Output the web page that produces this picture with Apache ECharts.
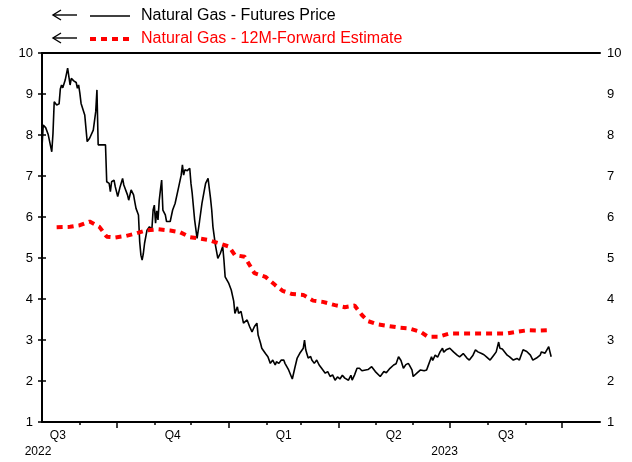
<!DOCTYPE html>
<html>
<head>
<meta charset="utf-8">
<script src="https://cdn.jsdelivr.net/npm/echarts@6/dist/echarts.min.js"></script>
<style>html,body{margin:0;padding:0;background:#fff}#c{width:632px;height:462px}</style>
</head>
<body>
<div id="c"></div>
<script>
// x = days since 2022-08-01
const seriesNames = ['Natural Gas - Futures Price', 'Natural Gas - 12M-Forward Estimate'];
const futuresDays = [0,1,3,5,8,9,10,12,14,15,16,17,19,21,23,24,26,28,29,30,31,32,35,37,39,42,44,45,46,50,52,53,55,56,57,59,60,62,64,66,67,70,71,73,75,76,77,79,80,81,82,83,84,86,87,88,90,91,92,93,94,95,96,97,98,99,101,102,105,107,109,112,113,114,115,116,117,119,121,122,123,125,127,129,131,133,134,136,137,138,139,140,142,143,144,146,148,149,150,153,155,157,158,160,161,163,165,168,170,172,174,176,177,179,180,183,185,187,188,189,191,192,194,196,198,199,202,205,207,209,211,214,215,216,217,218,220,221,223,225,227,229,230,232,234,236,238,240,242,244,246,248,251,253,254,256,258,260,262,265,267,270,271,273,277,280,282,285,288,290,292,294,296,298,300,301,303,304,307,310,313,315,316,319,320,322,324,326,328,329,331,334,337,340,342,345,348,350,353,355,357,360,362,364,367,370,372,374,375,377,378,381,383,386,389,391,394,397,400,402,405,408,409,412,415,416,417];
const futuresPrice = [7.70,8.24,8.18,8.02,7.59,8.04,8.81,8.73,8.76,9.12,9.22,9.15,9.34,9.63,9.22,9.38,9.32,9.28,9.14,9.22,9.02,8.77,8.49,7.84,7.92,8.12,8.57,9.10,7.76,7.76,7.76,6.86,6.82,6.62,6.86,6.90,6.74,6.50,6.74,6.94,6.78,6.54,6.41,6.66,6.54,6.37,6.21,6.05,5.40,5.07,4.95,5.11,5.36,5.68,5.64,5.76,5.70,6.17,6.29,5.85,6.15,5.93,6.40,6.66,6.90,6.17,6.05,5.89,5.89,6.17,6.33,6.74,6.78,7.02,7.27,7.02,7.15,7.13,7.19,6.82,6.58,5.93,5.48,5.89,6.33,6.66,6.82,6.94,6.70,6.46,6.17,5.76,5.32,5.30,4.99,5.11,5.28,4.95,4.54,4.38,4.22,3.95,3.65,3.81,3.65,3.70,3.41,3.49,3.33,3.20,3.33,3.41,3.12,2.92,2.80,2.67,2.59,2.43,2.39,2.51,2.39,2.47,2.43,2.51,2.51,2.43,2.27,2.05,2.31,2.56,2.67,2.80,3.00,2.76,2.66,2.56,2.60,2.51,2.43,2.51,2.39,2.31,2.27,2.19,2.23,2.11,2.15,2.02,2.10,2.05,2.14,2.07,2.02,2.14,2.02,2.15,2.31,2.31,2.25,2.27,2.28,2.35,2.35,2.23,2.11,2.23,2.20,2.31,2.39,2.42,2.59,2.50,2.31,2.40,2.43,2.38,2.27,2.11,2.19,2.27,2.25,2.27,2.35,2.59,2.50,2.63,2.58,2.71,2.80,2.70,2.76,2.80,2.71,2.63,2.59,2.67,2.56,2.51,2.63,2.76,2.71,2.67,2.64,2.59,2.51,2.63,2.71,2.95,2.80,2.78,2.76,2.63,2.59,2.51,2.55,2.51,2.76,2.72,2.63,2.51,2.56,2.63,2.71,2.68,2.84,2.71,2.59];
const forwardDays = [12,23,31,39,47,53,60,69,77,85,95,105,113,121,128,136,145,153,158,166,170,174,183,191,197,205,214,222,230,240,248,256,262,267,275,284,293,301,310,316,325,334,344,353,371,381,389,398,408,416];
const forwardEstimate = [5.75,5.76,5.80,5.89,5.76,5.52,5.50,5.54,5.60,5.67,5.70,5.67,5.63,5.51,5.48,5.44,5.36,5.28,5.07,5.03,4.83,4.63,4.54,4.34,4.20,4.12,4.10,3.96,3.93,3.85,3.80,3.84,3.61,3.46,3.38,3.34,3.30,3.28,3.20,3.08,3.08,3.16,3.16,3.16,3.16,3.16,3.20,3.24,3.23,3.24];
const monthTickDays = [31,92,122,184,212,273,304,365,396];
const quarterTickDays = [61,153,243,334,426];
const quarterLabelDays = [13,107,198,288,380];
const quarterLabels = ['Q3','Q4','Q1','Q2','Q3'];
const yearLabelDays = [0,333];
const yearLabels = ['2022','2023'];
const xMin = 0, xMax = 457;
const yMin = 1, yMax = 10, yStep = 1;

const FONT = 'Liberation Sans';
const zip = (a, b) => a.map((v, i) => [v, b[i]]);

const chart = echarts.init(document.getElementById('c'), null, {renderer: 'canvas'});
const baseX = {
  type: 'value', min: xMin, max: xMax, gridIndex: 0, position: 'bottom',
  splitLine: {show: false}
};
chart.setOption({
  animation: false,
  backgroundColor: '#fff',
  textStyle: {fontFamily: FONT},
  grid: {left: 42, right: 32, top: 53, bottom: 40},
  legend: {
    orient: 'vertical', left: 88, top: 8, padding: 0, itemWidth: 40, itemHeight: 14, itemGap: 7,
    itemStyle: {opacity: 0},
    textStyle: {fontFamily: FONT, fontSize: 16, color: '#000', padding: [0, 0, 0, 6]},
    data: [
      {name: seriesNames[0], textStyle: {color: '#000'}, lineStyle: {color: '#000', width: 1.6}},
      {name: seriesNames[1], textStyle: {color: '#ff0000'}, lineStyle: {color: '#ff0000', width: 4, type: [6, 5]}}
    ]
  },
  xAxis: [
    Object.assign({}, baseX, {
      axisLine: {show: true, lineStyle: {color: '#000', width: 2}},
      axisTick: {show: true, customValues: monthTickDays, length: 3, lineStyle: {color: '#000', width: 1.5}},
      axisLabel: {show: false}
    }),
    Object.assign({}, baseX, {
      axisLine: {show: false},
      axisTick: {show: true, customValues: quarterTickDays, length: 6, lineStyle: {color: '#000', width: 1.5}},
      axisLabel: {
        show: true, customValues: quarterLabelDays, margin: 8, fontSize: 12, color: '#000', fontFamily: FONT,
        formatter: v => quarterLabels[quarterLabelDays.indexOf(v)] || ''
      }
    }),
    Object.assign({}, baseX, {
      axisLine: {show: false},
      axisTick: {show: false},
      axisLabel: {
        show: true, customValues: yearLabelDays, margin: 24, fontSize: 12, color: '#000', fontFamily: FONT,
        padding: [0, 8, 0, 0],
        formatter: v => yearLabels[yearLabelDays.indexOf(v)] || ''
      }
    }),
    Object.assign({}, baseX, {
      position: 'top',
      axisLine: {show: true, lineStyle: {color: '#000', width: 2}},
      axisTick: {show: false},
      axisLabel: {show: false}
    })
  ],
  yAxis: [
    {
      type: 'value', position: 'left', min: yMin, max: yMax, interval: yStep,
      axisLine: {show: true, lineStyle: {color: '#000', width: 2}},
      axisTick: {show: true, length: 4, lineStyle: {color: '#000', width: 1.5}},
      axisLabel: {margin: 9, fontSize: 13, color: '#000', fontFamily: FONT},
      splitLine: {show: false}
    },
    {
      type: 'value', position: 'right', min: yMin, max: yMax, interval: yStep,
      axisLine: {show: true, lineStyle: {color: '#000', width: 2}},
      axisTick: {show: true, length: 4, lineStyle: {color: '#000', width: 1.5}},
      axisLabel: {margin: 7, fontSize: 13, color: '#000', fontFamily: FONT},
      splitLine: {show: false}
    }
  ],
  graphic: [
    {type: 'line', shape: {x1: 53, y1: 15, x2: 77, y2: 15}, style: {stroke: '#000', lineWidth: 1.4}},
    {type: 'polyline', shape: {points: [[61, 10], [53, 15], [61, 20]]}, style: {stroke: '#000', lineWidth: 1.4, fill: null}},
    {type: 'line', shape: {x1: 53, y1: 38, x2: 77, y2: 38}, style: {stroke: '#000', lineWidth: 1.4}},
    {type: 'polyline', shape: {points: [[61, 33], [53, 38], [61, 43]]}, style: {stroke: '#000', lineWidth: 1.4, fill: null}}
  ],
  series: [
    {
      name: seriesNames[0], type: 'line', xAxisIndex: 0, yAxisIndex: 0,
      data: zip(futuresDays, futuresPrice), showSymbol: false, symbol: 'none',
      lineStyle: {color: '#000', width: 1.6}, itemStyle: {color: '#000'}
    },
    {
      name: seriesNames[1], type: 'line', xAxisIndex: 0, yAxisIndex: 0,
      data: zip(forwardDays, forwardEstimate), showSymbol: false, symbol: 'none',
      lineStyle: {color: '#ff0000', width: 4, type: [6, 5]}, itemStyle: {color: '#ff0000'}
    }
  ]
});
</script>
</body>
</html>
